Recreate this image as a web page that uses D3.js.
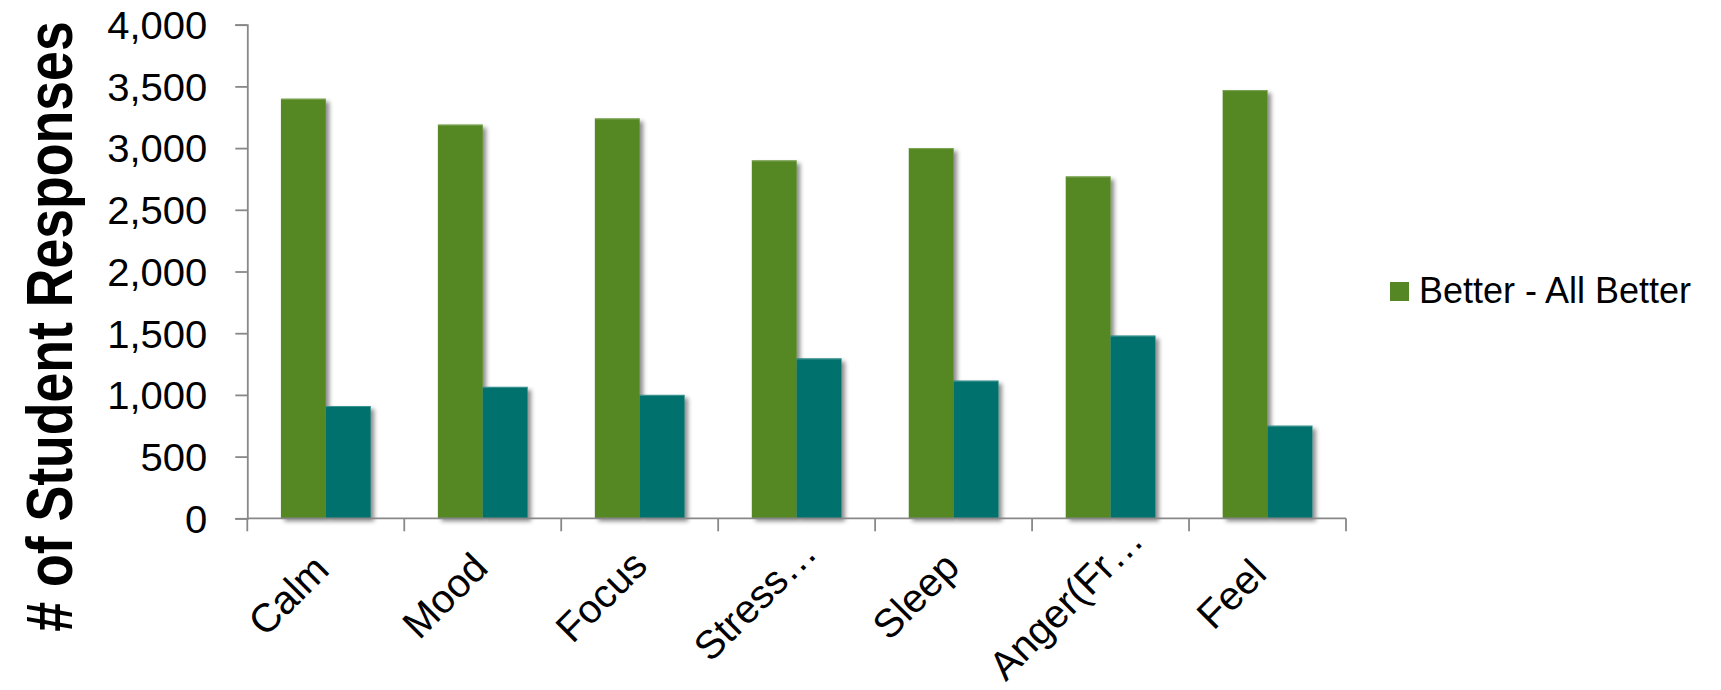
<!DOCTYPE html>
<html>
<head>
<meta charset="utf-8">
<script src="https://cdn.jsdelivr.net/npm/d3@7"></script>
<style>
  html, body { margin: 0; padding: 0; background: #fff; }
  svg { display: block; }
  text { font-family: "Liberation Sans", Arial, sans-serif; fill: #000; }
</style>
</head>
<body>
<svg id="chart" width="1721" height="690"></svg>
<script>
// Survey categories and the two response counts per category
const categories = ["Calm", "Mood", "Focus", "Stress…", "Sleep", "Anger(Fr…", "Feel"];
const seriesNames = ["Better - All Better", "Not Better"];
const betterValues = [3400, 3190, 3240, 2900, 3000, 2770, 3470];
const notBetterValues = [910, 1065, 1000, 1295, 1115, 1480, 750];
const yTicks = [0, 500, 1000, 1500, 2000, 2500, 3000, 3500, 4000];
const seriesColors = ["#558824", "#04716d"];
const legendNames = ["Better - All Better"];

const svg = d3.select("#chart");
const W = 1721, H = 690;
svg.append("rect").attr("width", W).attr("height", H).attr("fill", "#fff");

const plot = { left: 247.3, right: 1346, top: 24.7, bottom: 518.3 };
const axisColor = "#888888";

// Soft drop shadow under each bar
const defs = svg.append("defs");
const f = defs.append("filter").attr("id", "barShadow")
  .attr("x", "-30%").attr("y", "-10%").attr("width", "170%").attr("height", "130%");
f.append("feDropShadow").attr("dx", 3.5).attr("dy", 3).attr("stdDeviation", 2.2)
  .attr("flood-color", "#000").attr("flood-opacity", 0.45);

const x = d3.scaleBand().domain(categories).range([plot.left, plot.right]).padding(0);
const bw = x.bandwidth();
const barW = bw / 3.5;                 // gap width = 150% of a bar
const x1 = d3.scaleBand().domain(seriesNames)
  .range([barW * 0.75, bw - barW * 0.75]).padding(0);
const y = d3.scaleLinear().domain([0, 4000]).range([plot.bottom, plot.top]);

// Y axis
const yAxis = d3.axisLeft(y).tickValues(yTicks).tickFormat(d3.format(",")).tickSize(12).tickPadding(0);
const gy = svg.append("g").attr("transform", `translate(${plot.left},0)`).call(yAxis);
gy.select(".domain").attr("stroke", axisColor).attr("stroke-width", 1.8);
gy.selectAll(".tick line").attr("stroke", axisColor).attr("stroke-width", 1.8);
gy.selectAll(".tick text")
  .attr("x", 0).attr("dy", "0.36em")
  .attr("transform", "translate(-40,0) scale(1.04,1)")
  .style("font-size", "38.5px").style("font-family", "'Liberation Sans', Arial, sans-serif")
  .attr("fill", "#000");

// Bars
const rows = categories.map((c, i) => ({ cat: c, vals: [betterValues[i], notBetterValues[i]] }));
seriesNames.forEach((s, si) => {
  const g = svg.append("g").attr("filter", "url(#barShadow)");
  g.selectAll("rect").data(rows).join("rect")
    .attr("x", d => x(d.cat) + x1(s))
    .attr("y", d => y(d.vals[si]))
    .attr("width", x1.bandwidth())
    .attr("height", d => plot.bottom - y(d.vals[si]))
    .attr("fill", seriesColors[si]);
});
// light rim along the top of each bar
seriesNames.forEach((s, si) => {
  svg.append("g").selectAll("rect").data(rows).join("rect")
    .attr("x", d => x(d.cat) + x1(s))
    .attr("y", d => y(d.vals[si]))
    .attr("width", x1.bandwidth())
    .attr("height", 1)
    .attr("fill", si === 0 ? "#7fa55a" : "#3e9590");
});

// X axis line with ticks at category boundaries
const gx = svg.append("g");
gx.append("line").attr("x1", plot.left).attr("x2", plot.right)
  .attr("y1", plot.bottom).attr("y2", plot.bottom)
  .attr("stroke", axisColor).attr("stroke-width", 1.8);
const bounds = categories.map(c => x(c)).concat([x.range()[1]]);
gx.selectAll("line.tk").data(bounds).join("line").attr("class", "tk")
  .attr("x1", d => d).attr("x2", d => d)
  .attr("y1", plot.bottom).attr("y2", plot.bottom + 13)
  .attr("stroke", axisColor).attr("stroke-width", 1.8);

// Rotated category labels: a point 40% back from each label's end sits
// just below and left of the category centre
const labels = gx.selectAll("text").data(categories).join("text")
  .attr("text-anchor", "end")
  .attr("transform", d => `translate(${x(d) + bw / 2 - 21},${plot.bottom + 80}) rotate(-45)`)
  .style("font-size", "40px")
  .text(d => d);
labels.attr("x", function () { return 0.4 * this.getComputedTextLength(); });

// Y axis title
svg.append("text")
  .attr("text-anchor", "middle")
  .attr("transform", `translate(71.5,${(20 + 633) / 2}) rotate(-90) scale(1,1.2)`)
  .style("font-size", "53.6px").style("font-weight", "bold")
  .text("# of Student Responses");

// Legend
const lg = svg.append("g").attr("transform", "translate(1390,0)");
lg.selectAll("rect").data(legendNames).join("rect")
  .attr("x", 0).attr("y", (d, i) => 282 + i * 50).attr("width", 19).attr("height", 19)
  .attr("fill", (d, i) => seriesColors[i]);
lg.selectAll("text").data(legendNames).join("text")
  .attr("x", 29).attr("y", (d, i) => 303.3 + i * 50)
  .style("font-size", "36px")
  .text(d => d);
</script>
</body>
</html>
